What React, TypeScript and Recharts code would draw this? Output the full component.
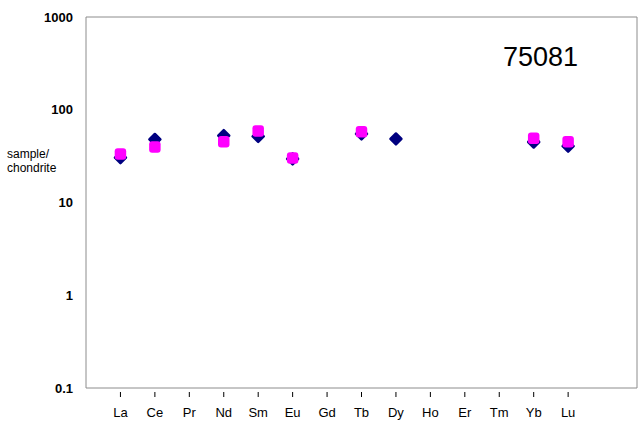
import { ScatterChart, Scatter, XAxis, YAxis, ReferenceArea } from 'recharts';

const elements = ['La', 'Ce', 'Pr', 'Nd', 'Sm', 'Eu', 'Gd', 'Tb', 'Dy', 'Ho', 'Er', 'Tm', 'Yb', 'Lu'];
const navyValues = [30.5, 47.8, null, 52.7, 51.5, 29.5, null, 54.8, 48.4, null, null, null, 44.9, 40.6];
const magentaValues = [33.3, 39.6, null, 45.3, 59, 30.2, null, 58, null, null, null, null, 49.2, 45.3];
const yTicks = [0.1, 1, 10, 100, 1000];
const sampleName = '75081';

const FONT = '"Liberation Sans", Arial, sans-serif';

const toPoints = (vals: (number | null)[]) =>
  vals
    .map((v, i) => ({ x: i + 1, y: v, name: elements[i] }))
    .filter((p) => p.y != null);

function Diamond(props: { cx?: number; cy?: number }) {
  const { cx, cy } = props;
  if (cx == null || cy == null) return null;
  const h = 5.5;
  return (
    <path
      d={`M${cx},${cy - h} L${cx + h},${cy} L${cx},${cy + h} L${cx - h},${cy} Z`}
      fill="#000080"
      stroke="#000080"
      strokeWidth={2.5}
      strokeLinejoin="round"
    />
  );
}

function Square(props: { cx?: number; cy?: number }) {
  const { cx, cy } = props;
  if (cx == null || cy == null) return null;
  return <rect x={cx - 5.75} y={cy - 5.75} width={11.5} height={11.5} rx={3} fill="#ff00ff" />;
}

function ElementTick(props: { x?: number; y?: number; payload?: { value: number } }) {
  const { x = 0, y = 0, payload } = props;
  return (
    <g>
      <line x1={x} y1={y + 4} x2={x} y2={y + 9} stroke="#000" strokeWidth={1} />
      <text x={x} y={y + 28.5} textAnchor="middle" fontSize={13} fontFamily={FONT} fill="#000">
        {elements[(payload?.value ?? 1) - 1]}
      </text>
    </g>
  );
}

export default function App() {
  const navy = toPoints(navyValues);
  const magenta = toPoints(magentaValues);

  return (
    <div style={{ position: 'absolute', left: 0, top: 0, width: 639, height: 434, background: '#fff' }}>
      <ScatterChart width={639} height={434} margin={{ top: 17, right: 2, bottom: 0, left: 0 }}>
        <XAxis
          type="number"
          dataKey="x"
          domain={[0, 16]}
          ticks={elements.map((_, i) => i + 1)}
          interval={0}
          axisLine={false}
          tickLine={false}
          tickSize={0}
          tickMargin={0}
          height={46}
          tick={<ElementTick />}
        />
        <YAxis
          type="number"
          dataKey="y"
          scale="log"
          domain={[0.1, 1000]}
          ticks={yTicks}
          allowDataOverflow
          axisLine={false}
          tickLine={false}
          tickSize={0}
          tickMargin={13}
          width={86}
          tickFormatter={(v: number) => String(v)}
          tick={{ fontSize: 13, fontWeight: 700, fill: '#000', fontFamily: FONT }}
        />
        <ReferenceArea
          x1={0}
          x2={16}
          y1={0.1}
          y2={1000}
          fill="none"
          stroke="#8c8c8c"
          strokeWidth={1}
          ifOverflow="visible"
        />
        <Scatter data={navy} shape={<Diamond />} isAnimationActive={false} />
        <Scatter data={magenta} shape={<Square />} isAnimationActive={false} />
      </ScatterChart>
      <svg
        width={639}
        height={434}
        style={{ position: 'absolute', left: 0, top: 0, pointerEvents: 'none' }}
      >
        <text x={503} y={66} fontSize={27} fontFamily={FONT} fill="#000">
          {sampleName}
        </text>
        <text x={7} y={158} fontSize={12} fontFamily={FONT} fill="#000">
          sample/
        </text>
        <text x={7} y={172} fontSize={12} fontFamily={FONT} fill="#000">
          chondrite
        </text>
      </svg>
    </div>
  );
}
